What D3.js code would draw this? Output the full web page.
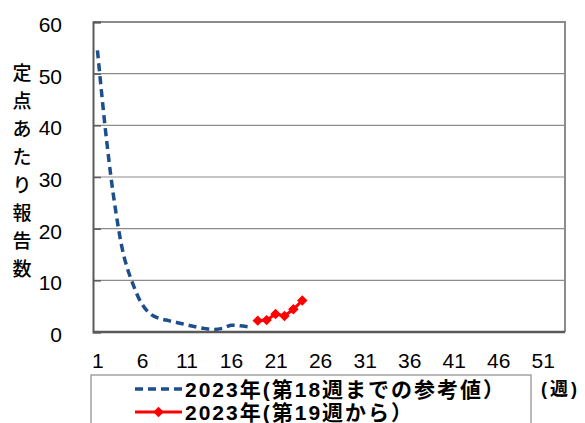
<!DOCTYPE html>
<html>
<head>
<meta charset="utf-8">
<script src="https://cdn.jsdelivr.net/npm/d3@7/dist/d3.min.js"></script>
<style>
  html, body { margin: 0; padding: 0; background: #fff; }
  svg { display: block; }
  text { fill: #000; }
</style>
</head>
<body>
<svg id="chart" width="585" height="423"></svg>
<script>
// Weeks on the category axis (1..53) and the labelled ones
const weeks = d3.range(1, 54);
const weekTicks = [1, 6, 11, 16, 21, 26, 31, 36, 41, 46, 51];
const yTicks = [0, 10, 20, 30, 40, 50, 60];

// 2023: reference values up to week 18
const refWeeks = d3.range(1, 19);
const refValues = [54.5, 37.5, 24, 14.5, 9.2, 5.4, 3.4, 2.6, 2.2, 1.8, 1.4, 1.0, 0.7, 0.5, 0.7, 1.3, 1.2, 1.0];

// 2023: values from week 19
const curWeeks = d3.range(19, 25);
const curValues = [2.2, 2.3, 3.5, 3.1, 4.4, 6.1];

const seriesNames = ["2023年(第18週までの参考値）", "2023年(第19週から）"];
const yTitle = "定点あたり報告数";
const xUnit = "(週)";

const svg = d3.select("#chart");
const plot = { left: 93, right: 565, top: 22, bottom: 332 };

const x = d3.scalePoint().domain(weeks).range([plot.left, plot.right]).padding(0.5);
const y = d3.scaleLinear().domain([0, 60]).range([plot.bottom, plot.top]);

const labelFont = "'Liberation Sans', Arial, sans-serif";
const cjkFont = "'Liberation Sans', 'Noto Sans CJK JP', sans-serif";

// horizontal gridlines
svg.append("g")
  .selectAll("line")
  .data(yTicks.filter(d => d > 0))
  .join("line")
  .attr("x1", plot.left).attr("x2", plot.right)
  .attr("y1", d => y(d)).attr("y2", d => y(d))
  .attr("stroke", "#8c8c8c").attr("stroke-width", 1.2);

// plot frame (right and top)
svg.append("path")
  .attr("d", `M${plot.left},${plot.top}H${plot.right}V${plot.bottom}`)
  .attr("fill", "none").attr("stroke", "#8c8c8c").attr("stroke-width", 2);

// y axis with inward ticks
const yAxis = d3.axisLeft(y).tickValues(yTicks).tickSize(-8).tickFormat(d3.format("d")).tickPadding(31);
const gy = svg.append("g").attr("transform", `translate(${plot.left},0)`).call(yAxis);
gy.select(".domain").attr("stroke", "#5a5a5a").attr("stroke-width", 2);
gy.selectAll(".tick line").attr("stroke", "#5a5a5a").attr("stroke-width", 1.5);
gy.selectAll(".tick text")
  .attr("font-family", labelFont).attr("font-size", 21)
  .attr("dy", "0.45em");

// x axis: category labels only
const xAxis = d3.axisBottom(x).tickValues(weekTicks).tickSize(0).tickPadding(21);
const gx = svg.append("g").attr("transform", `translate(0,${plot.bottom})`).call(xAxis);
gx.select(".domain").attr("stroke", "#5a5a5a").attr("stroke-width", 2.5)
  .attr("d", `M${plot.left},0H${plot.right}`);
gx.selectAll(".tick text")
  .attr("font-family", labelFont).attr("font-size", 21);

// reference series: smoothed dashed line
const refLine = d3.line()
  .x((d, i) => x(refWeeks[i]))
  .y(d => y(d))
  .curve(d3.curveCatmullRom.alpha(0.5));
svg.append("path")
  .datum(refValues)
  .attr("d", refLine)
  .attr("fill", "none")
  .attr("stroke", "#1f4e8c")
  .attr("stroke-width", 3.5)
  .attr("stroke-dasharray", "8,5");

// current series: red line with diamond markers
const curLine = d3.line()
  .x((d, i) => x(curWeeks[i]))
  .y(d => y(d));
svg.append("path")
  .datum(curValues)
  .attr("d", curLine)
  .attr("fill", "none")
  .attr("stroke", "#ff0000")
  .attr("stroke-width", 3);
const diamond = d3.symbol().type(d3.symbolDiamond2).size(70);
svg.append("g")
  .selectAll("path")
  .data(curValues)
  .join("path")
  .attr("d", diamond)
  .attr("transform", (d, i) => `translate(${x(curWeeks[i])},${y(d)})`)
  .attr("fill", "#ff0000");

// vertical y-axis title, one character per line
svg.append("g")
  .selectAll("text")
  .data(Array.from(yTitle))
  .join("text")
  .attr("x", 22)
  .attr("y", (d, i) => 73.5 + i * 28)
  .attr("dy", "0.36em")
  .attr("text-anchor", "middle")
  .attr("font-family", "'Noto Sans CJK JP', sans-serif")
  .attr("font-size", 19)
  .attr("font-weight", 500)
  .text(d => d);

// week unit label
svg.append("text")
  .attr("x", 541).attr("y", 389).attr("dy", "0.36em")
  .attr("letter-spacing", 3)
  .attr("font-family", cjkFont).attr("font-size", 18).attr("font-weight", "bold")
  .text(xUnit);

// legend
const legend = svg.append("g");
legend.append("rect")
  .attr("x", 91).attr("y", 375).attr("width", 440).attr("height", 60)
  .attr("fill", "#fff").attr("stroke", "#8c8c8c").attr("stroke-width", 1.2);
const rows = [389, 412];
legend.append("line")
  .attr("x1", 135).attr("x2", 182).attr("y1", rows[0]).attr("y2", rows[0])
  .attr("stroke", "#1f4e8c").attr("stroke-width", 3.5).attr("stroke-dasharray", "8,5");
legend.append("line")
  .attr("x1", 135).attr("x2", 182).attr("y1", rows[1]).attr("y2", rows[1])
  .attr("stroke", "#ff0000").attr("stroke-width", 3);
legend.append("path")
  .attr("d", diamond)
  .attr("transform", `translate(158.5,${rows[1]})`)
  .attr("fill", "#ff0000");
legend.selectAll("text.lg")
  .data(seriesNames)
  .join("text")
  .attr("class", "lg")
  .attr("x", 185)
  .attr("y", (d, i) => rows[i])
  .attr("dy", "0.36em")
  .attr("letter-spacing", 2)
  .attr("font-family", cjkFont).attr("font-size", 21).attr("font-weight", "bold")
  .text(d => d);
</script>
</body>
</html>
